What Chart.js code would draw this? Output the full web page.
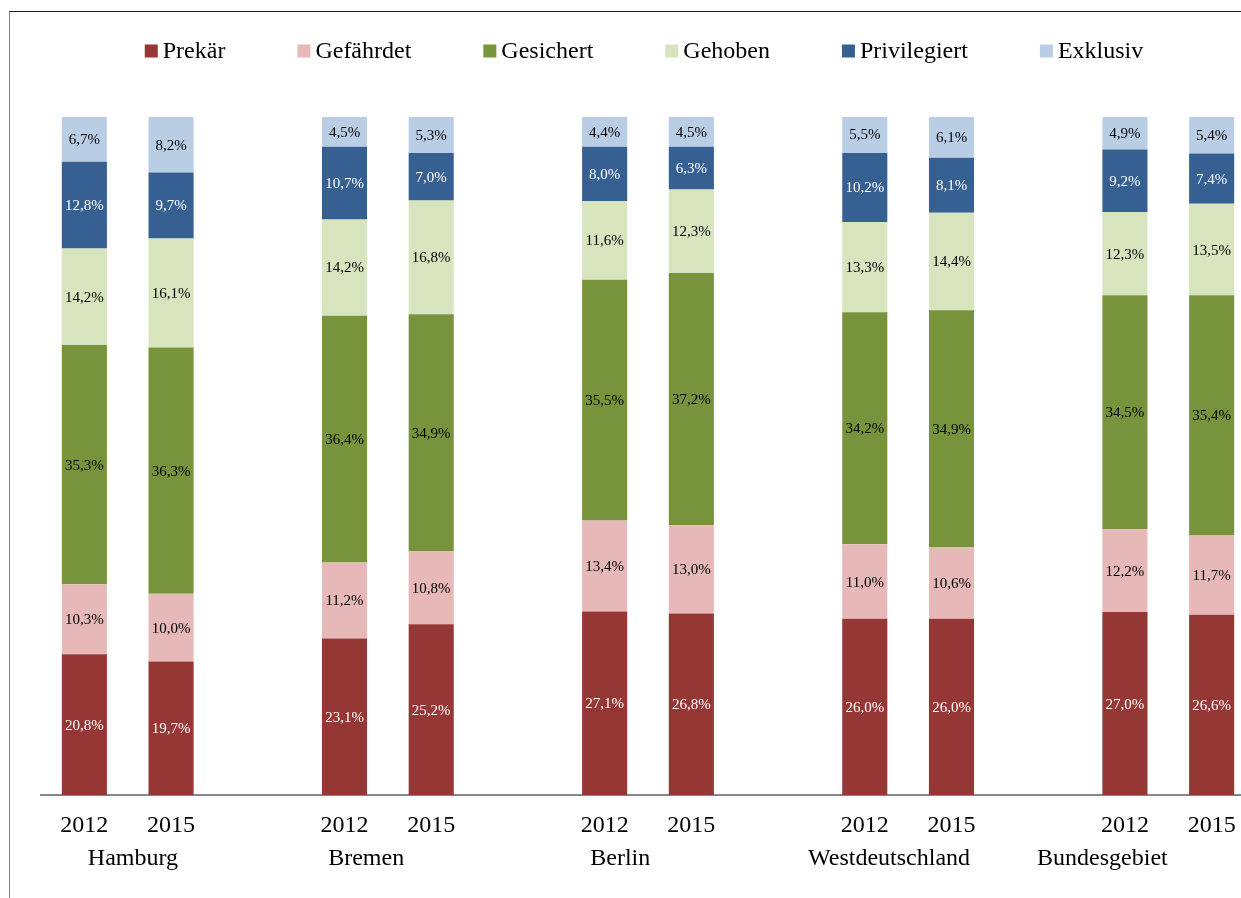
<!DOCTYPE html>
<html>
<head>
<meta charset="utf-8">
<script src="https://cdn.jsdelivr.net/npm/chart.js@4.4.1/dist/chart.umd.min.js"></script>
<style>
html, body { margin: 0; padding: 0; background: #fff; overflow: hidden; }
#frame { position: absolute; left: 9px; top: 11px; width: 1290px; height: 900px;
         border-top: 1px solid #1e1e1e; border-left: 1px solid #808080; }
canvas { display: block; }
</style>
</head>
<body>
<div id="frame"><canvas id="chart" width="1268" height="890"></canvas></div>
<script>
const regions = ['Hamburg', 'Bremen', 'Berlin', 'Westdeutschland', 'Bundesgebiet'];
const years = ['2012', '2015'];

// one value per bar: Hamburg 2012, Hamburg 2015, Bremen 2012, ...
const prekaer     = [20.8, 19.7, 23.1, 25.2, 27.1, 26.8, 26.0, 26.0, 27.0, 26.6];
const gefaehrdet  = [10.3, 10.0, 11.2, 10.8, 13.4, 13.0, 11.0, 10.6, 12.2, 11.7];
const gesichert   = [35.3, 36.3, 36.4, 34.9, 35.5, 37.2, 34.2, 34.9, 34.5, 35.4];
const gehoben     = [14.2, 16.1, 14.2, 16.8, 11.6, 12.3, 13.3, 14.4, 12.3, 13.5];
const privilegiert = [12.8, 9.7, 10.7, 7.0, 8.0, 6.3, 10.2, 8.1, 9.2, 7.4];
const exklusiv    = [6.7, 8.2, 4.5, 5.3, 4.4, 4.5, 5.5, 6.1, 4.9, 5.4];

// put an empty slot between the regions
function toSlots(arr, empty) {
    const out = [];
    regions.forEach((r, i) => {
        out.push(arr[2 * i], arr[2 * i + 1]);
        if (i < regions.length - 1) out.push(empty);
    });
    return out;
}

const yearLabels = [];
regions.forEach(() => yearLabels.push(years[0], years[1]));
const labels = toSlots(yearLabels, '');

const serif = "'Liberation Serif', 'Times New Roman', serif";

const series = [
    { label: 'Prekär',       data: prekaer,      color: '#953735', text: '#ffffff' },
    { label: 'Gefährdet',    data: gefaehrdet,   color: '#e6b9b8', text: '#000000' },
    { label: 'Gesichert',    data: gesichert,    color: '#77933c', text: '#000000' },
    { label: 'Gehoben',      data: gehoben,      color: '#d7e4bd', text: '#000000' },
    { label: 'Privilegiert', data: privilegiert, color: '#376092', text: '#ffffff' },
    { label: 'Exklusiv',     data: exklusiv,     color: '#b9cde5', text: '#000000' },
];

// where the region names sit, in category units (the original used spaces, not centring)
const regionPos = [0.56, 3.25, 6.18, 9.28, 11.74];

const extras = {
    id: 'extras',
    afterDatasetsDraw(chart) {
        const ctx = chart.ctx;
        ctx.save();
        // value labels in the middle of every segment
        ctx.font = '15px ' + serif;
        ctx.textAlign = 'center';
        ctx.textBaseline = 'middle';
        chart.data.datasets.forEach((ds, i) => {
            const meta = chart.getDatasetMeta(i);
            meta.data.forEach((bar, j) => {
                const v = ds.data[j];
                if (v == null) return;
                const p = bar.getProps(['x', 'y', 'base'], true);
                ctx.fillStyle = series[i].text;
                ctx.fillText(v.toFixed(1).replace('.', ',') + '%', p.x, (p.y + p.base) / 2 + 1);
            });
        });
        ctx.restore();
    },
    afterDraw(chart) {
        const ctx = chart.ctx;
        ctx.save();
        // region names under the year labels
        const x = chart.scales.x;
        const step = x.getPixelForValue(1) - x.getPixelForValue(0);
        ctx.font = '24px ' + serif;
        ctx.fillStyle = '#000';
        ctx.textAlign = 'center';
        ctx.textBaseline = 'middle';
        regions.forEach((r, i) => {
            const cx = x.getPixelForValue(0) + regionPos[i] * step;
            ctx.fillText(r, cx, 847);
        });

        // legend row
        const box = 13, gapText = 5, gapItem = 72;
        const widths = series.map(s => ctx.measureText(s.label).width);
        let total = 0;
        widths.forEach(w => total += box + gapText + w);
        total += gapItem * (series.length - 1);
        let lx = (chart.width - total) / 2;
        const ly = 39;
        ctx.textAlign = 'left';
        series.forEach((s, i) => {
            ctx.fillStyle = s.color;
            ctx.fillRect(lx, ly - box / 2, box, box);
            ctx.fillStyle = '#000';
            ctx.fillText(s.label, lx + box + gapText, ly + 1);
            lx += box + gapText + widths[i] + gapItem;
        });
        ctx.restore();
    }
};

new Chart(document.getElementById('chart'), {
    type: 'bar',
    data: {
        labels: labels,
        datasets: series.map(s => ({
            label: s.label,
            data: toSlots(s.data, null),
            backgroundColor: s.color,
            borderWidth: 0,
            categoryPercentage: 1.0,
            barPercentage: 0.52,
        }))
    },
    options: {
        responsive: false,
        animation: false,
        layout: {
            padding: { left: 31, right: 23, top: 105, bottom: 46 }
        },
        scales: {
            x: {
                stacked: true,
                grid: { display: false, drawTicks: false },
                border: { display: true, color: '#878787', width: 2 },
                ticks: {
                    color: '#000',
                    padding: 16,
                    font: { family: serif, size: 24 },
                    maxRotation: 0,
                    autoSkip: false,
                }
            },
            y: {
                stacked: true,
                display: false,
                min: 0,
                max: 100,
            }
        },
        plugins: {
            legend: { display: false },
            tooltip: { enabled: false },
        },
    },
    plugins: [extras]
});
</script>
</body>
</html>
